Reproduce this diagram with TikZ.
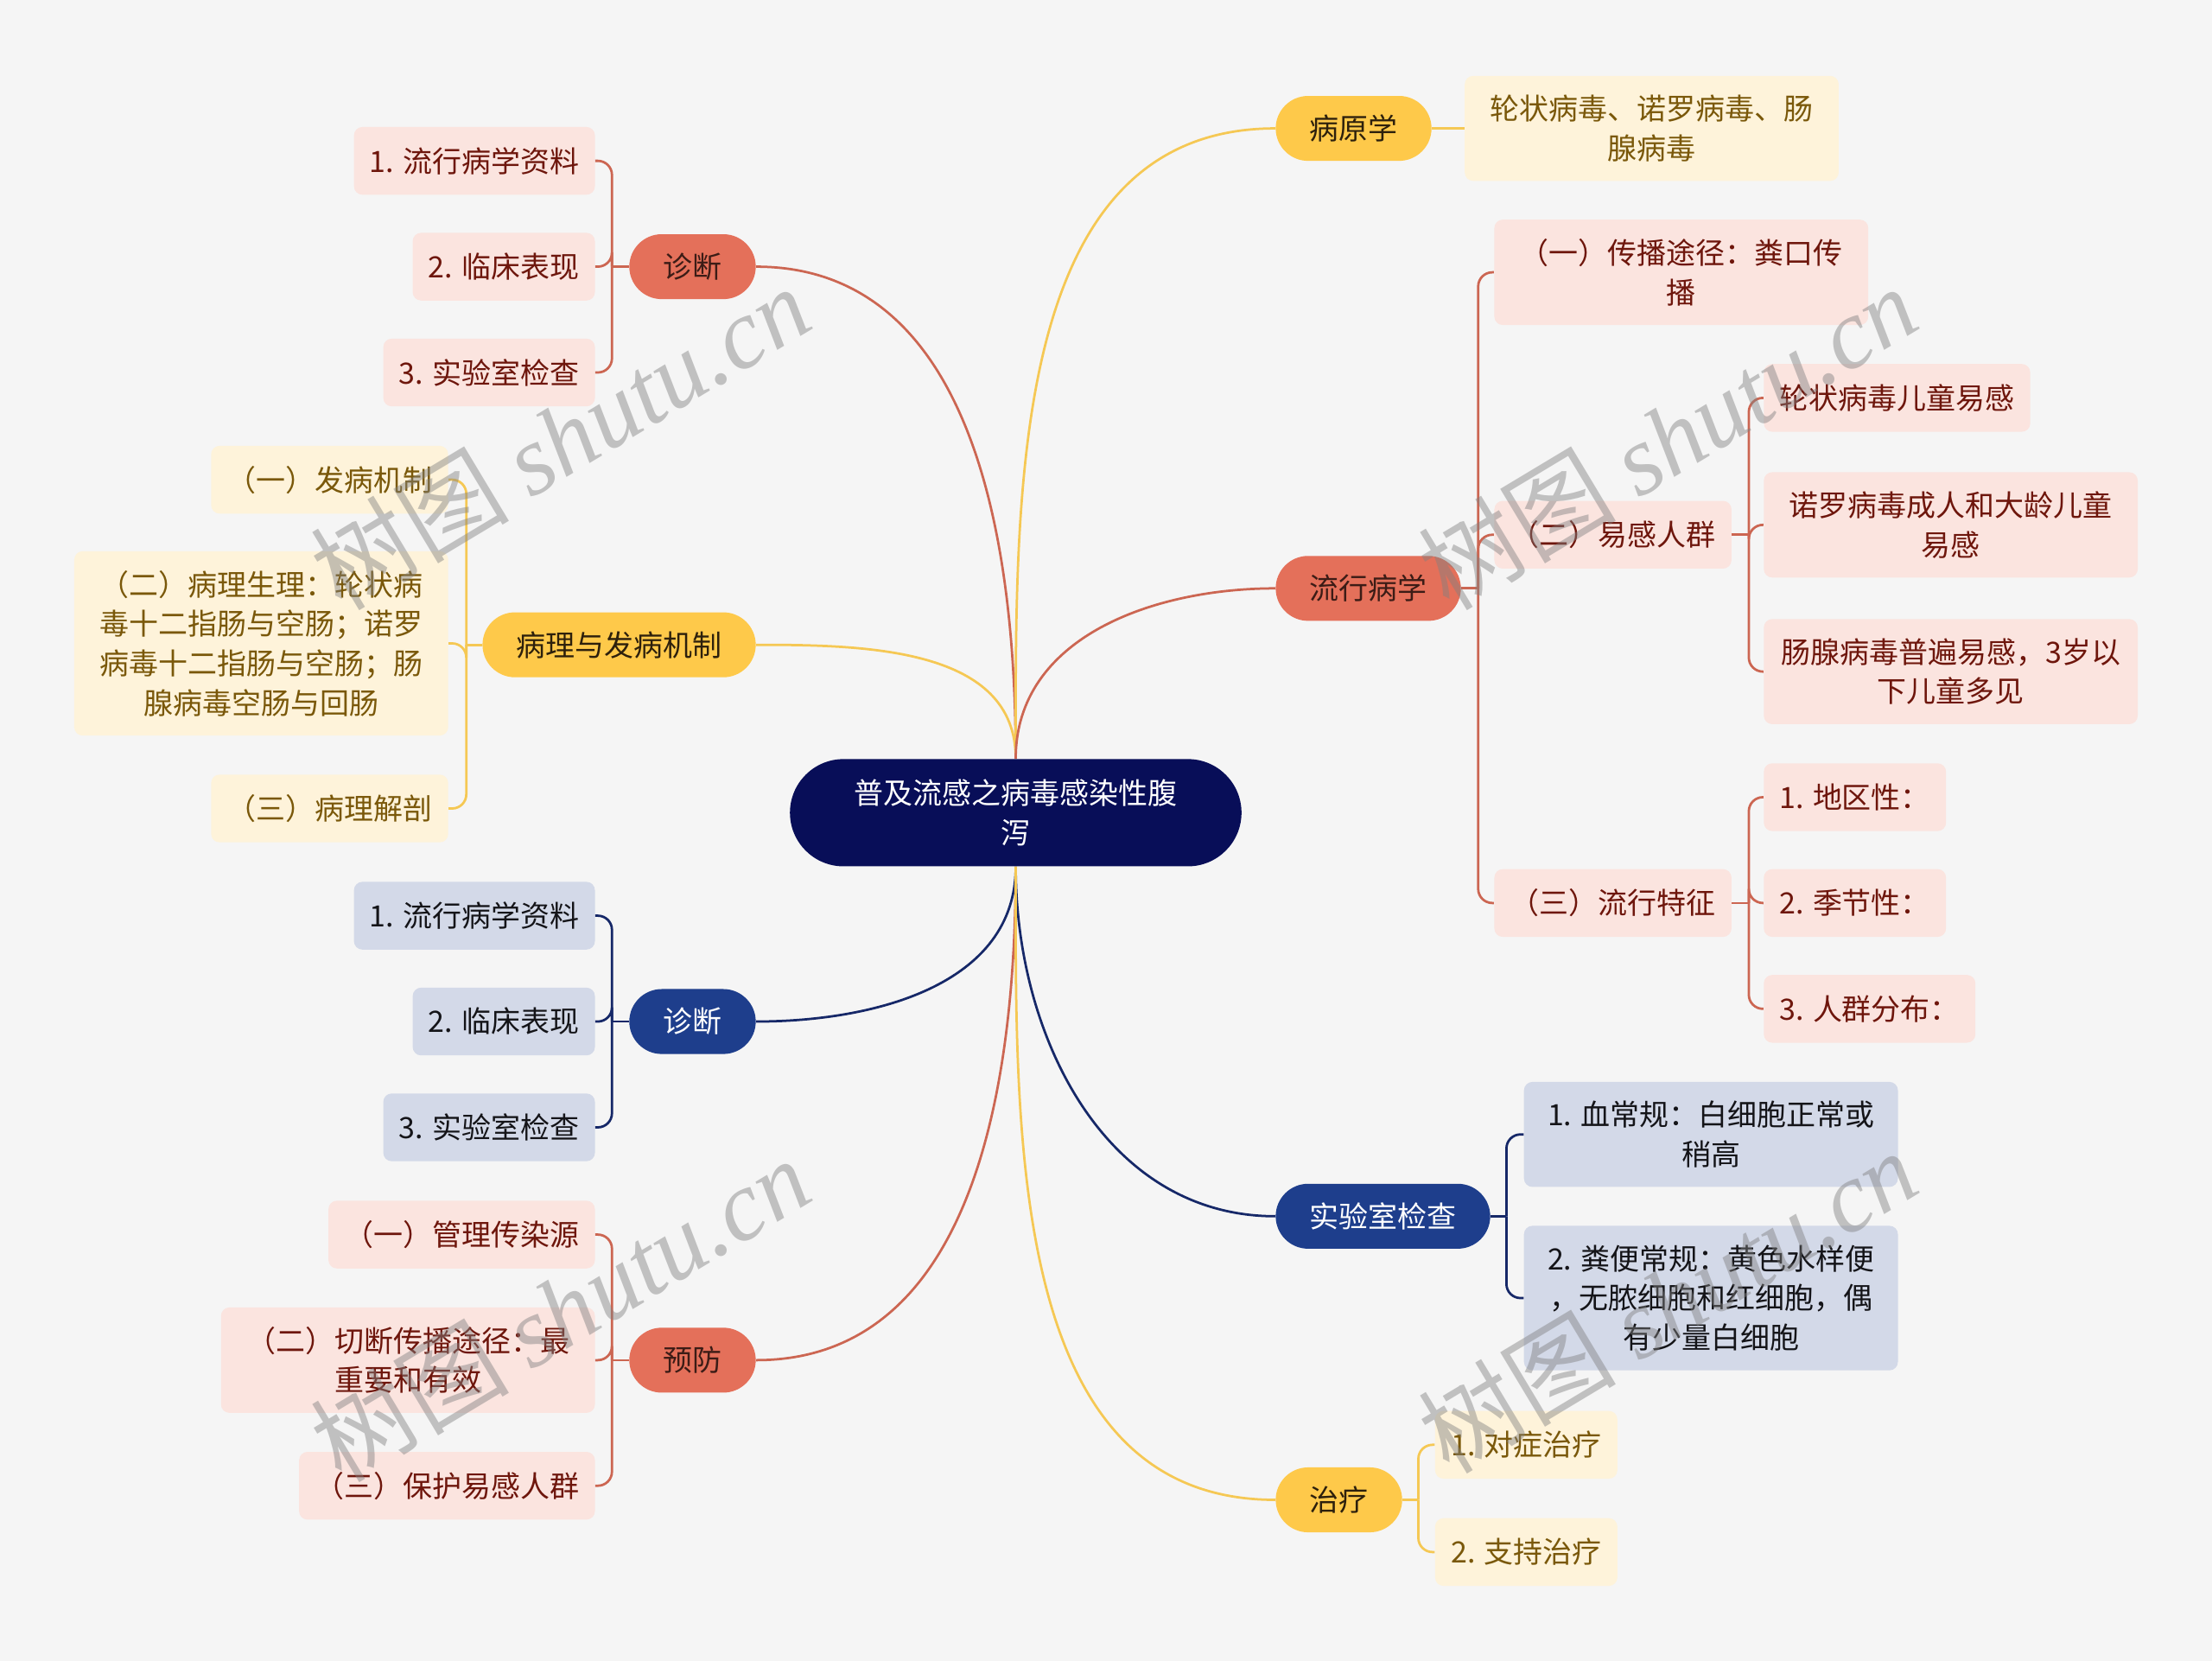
\documentclass[tikz,border=0pt]{standalone}
\usepackage{fontspec}
\newfontfamily\cjk{Noto Sans CJK SC}
\newfontfamily\wmfont{Liberation Serif}
\usetikzlibrary{positioning}

\definecolor{bgcol}{RGB}{245,245,245}
\definecolor{rootfill}{RGB}{8,14,88}
\definecolor{redfill}{RGB}{228,112,90}
\definecolor{redline}{RGB}{204,102,82}
\definecolor{redleaf}{RGB}{251,228,223}
\definecolor{redtext}{RGB}{110,22,12}
\definecolor{redhead}{RGB}{60,28,22}
\definecolor{yelfill}{RGB}{254,201,74}
\definecolor{yelline}{RGB}{245,200,84}
\definecolor{yelleaf}{RGB}{254,243,218}
\definecolor{yeltext}{RGB}{122,88,10}
\definecolor{yelhead}{RGB}{45,32,12}
\definecolor{bluefill}{RGB}{30,62,140}
\definecolor{blueline}{RGB}{22,40,104}
\definecolor{blueleaf}{RGB}{211,217,232}
\definecolor{bluetext}{RGB}{20,20,24}

\tikzset{
  base/.style={font=\cjk\fontsize{14.8}{19.9}\selectfont, align=center},
  root/.style={base, fill=rootfill, text=white, rounded corners=0.95cm,
    minimum width=8cm, minimum height=1.9cm, inner sep=0pt},
  branch/.style={base, rounded corners=0.575cm, minimum height=1.15cm,
    inner xsep=0.6cm, inner ysep=0pt},
  redbr/.style={branch, fill=redfill, text=redhead},
  yelbr/.style={branch, fill=yelfill, text=yelhead},
  bluebr/.style={branch, fill=bluefill, text=white},
  leaf/.style={base, rounded corners=0.15cm, minimum height=1.2cm,
    inner xsep=0.28cm, inner ysep=0.34cm},
  redlf/.style={leaf, fill=redleaf, text=redtext},
  yellf/.style={leaf, fill=yelleaf, text=yeltext},
  bluelf/.style={leaf, fill=blueleaf, text=bluetext},
  wide/.style={minimum width=6.625cm},
  link/.style={line width=1.2pt},
  brace/.style={line width=1.2pt, rounded corners=0.25cm},
  wmark/.style={font=\cjk\fontsize{50}{50}\selectfont, text=gray, opacity=0.45, rotate=31}
}

\begin{document}
\begin{tikzpicture}[x=0.025cm, y=0.025cm]
  % background and page size
  \fill[bgcol] (0,0) rectangle (1568,-1177);
  \useasboundingbox (0,0) rectangle (1568,-1177);

  % Root
  \node[root] (root) at (720,-576) {普及流感之病毒感染性腹\\泻};

  % Left branches
  \node[redbr, anchor=east] (zd1) at (536,-189) {诊断};
  \node[yelbr, anchor=east] (bl) at (536,-457) {病理与发病机制};
  \node[bluebr, anchor=east] (zd2) at (536,-724) {诊断};
  \node[redbr, anchor=east] (yf) at (536,-964) {预防};

  % Right branches
  \node[yelbr, anchor=west] (byx) at (904,-91) {病原学};
  \node[redbr, anchor=west] (lxb) at (904,-417) {流行病学};
  \node[bluebr, anchor=west] (sys) at (904,-862) {实验室检查};
  \node[yelbr, anchor=west] (zl) at (904,-1063) {治疗};

  % Root connectors
  \draw[link, redline] (root.north) to[out=90, in=0] (zd1.east);
  \draw[link, yelline] (root.north) to[out=90, in=0] (bl.east);
  \draw[link, blueline] (root.south) to[out=-90, in=0] (zd2.east);
  \draw[link, redline] (root.south) to[out=-90, in=0] (yf.east);
  \draw[link, yelline] (root.north) to[out=90, in=180] (byx.west);
  \draw[link, redline] (root.north) to[out=90, in=180] (lxb.west);
  \draw[link, blueline] (root.south) to[out=-90, in=180] (sys.west);
  \draw[link, yelline] (root.south) to[out=-90, in=180] (zl.west);

  % --- 诊断 (red) ---
  \node[redlf, anchor=east] (zd1a) at (422,-114) {1. 流行病学资料};
  \node[redlf, anchor=east] (zd1b) at (422,-189) {2. 临床表现};
  \node[redlf, anchor=east] (zd1c) at (422,-264) {3. 实验室检查};
  \coordinate (zd1k) at ([xshift=-0.3cm]zd1.west);
  \draw[link, redline] (zd1.west) -- (zd1k);
  \foreach \c in {zd1a,zd1b,zd1c}
    \draw[brace, redline] (zd1k) |- (\c.east);

  % --- 病理与发病机制 ---
  \node[yellf, anchor=east] (bla) at (318,-340) {（一）发病机制};
  \node[yellf, wide, anchor=east] (blb) at (318,-456)
    {（二）病理生理：轮状病\\毒十二指肠与空肠；诺罗\\病毒十二指肠与空肠；肠\\腺病毒空肠与回肠};
  \node[yellf, anchor=east] (blc) at (318,-573) {（三）病理解剖};
  \coordinate (blk) at ([xshift=-0.28cm]bl.west);
  \draw[link, yelline] (bl.west) -- (blk);
  \foreach \c in {bla,blb,blc}
    \draw[brace, yelline] (blk) |- (\c.east);

  % --- 诊断 (blue) ---
  \node[bluelf, anchor=east] (zd2a) at (422,-649) {1. 流行病学资料};
  \node[bluelf, anchor=east] (zd2b) at (422,-724) {2. 临床表现};
  \node[bluelf, anchor=east] (zd2c) at (422,-799) {3. 实验室检查};
  \coordinate (zd2k) at ([xshift=-0.3cm]zd2.west);
  \draw[link, blueline] (zd2.west) -- (zd2k);
  \foreach \c in {zd2a,zd2b,zd2c}
    \draw[brace, blueline] (zd2k) |- (\c.east);

  % --- 预防 ---
  \node[redlf, anchor=east] (yfa) at (422,-875) {（一）管理传染源};
  \node[redlf, wide, anchor=east] (yfb) at (422,-964) {（二）切断传播途径：最\\重要和有效};
  \node[redlf, anchor=east] (yfc) at (422,-1053) {（三）保护易感人群};
  \coordinate (yfk) at ([xshift=-0.3cm]yf.west);
  \draw[link, redline] (yf.west) -- (yfk);
  \foreach \c in {yfa,yfb,yfc}
    \draw[brace, redline] (yfk) |- (\c.east);

  % --- 病原学 ---
  \node[yellf, wide, anchor=west] (byxa) at (1038,-91) {轮状病毒、诺罗病毒、肠\\腺病毒};
  \draw[link, yelline] (byx.east) -- (byxa.west);

  % --- 流行病学 ---
  \node[redlf, wide, anchor=west] (lxba) at (1059,-193) {（一）传播途径：粪口传\\播};
  \node[redlf, anchor=west] (lxbb) at (1059,-379) {（二）易感人群};
  \node[redlf, anchor=west] (lxbc) at (1059,-640) {（三）流行特征};
  \coordinate (lxbk) at ([xshift=0.3cm]lxb.east);
  \draw[link, redline] (lxb.east) -- (lxbk);
  \foreach \c in {lxba,lxbb,lxbc}
    \draw[brace, redline] (lxbk) |- (\c.west);

  % 易感人群
  \node[redlf, anchor=west] (yga) at (1250,-282) {轮状病毒儿童易感};
  \node[redlf, wide, anchor=west] (ygb) at (1250,-372) {诺罗病毒成人和大龄儿童\\易感};
  \node[redlf, wide, anchor=west] (ygc) at (1250,-476) {肠腺病毒普遍易感，3岁以\\下儿童多见};
  \coordinate (ygk) at ([xshift=0.3cm]lxbb.east);
  \draw[link, redline] (lxbb.east) -- (ygk);
  \foreach \c in {yga,ygb,ygc}
    \draw[brace, redline] (ygk) |- (\c.west);

  % 流行特征
  \node[redlf, anchor=west] (tza) at (1250,-565) {1. 地区性：};
  \node[redlf, anchor=west] (tzb) at (1250,-640) {2. 季节性：};
  \node[redlf, anchor=west] (tzc) at (1250,-715) {3. 人群分布：};
  \coordinate (tzk) at ([xshift=0.3cm]lxbc.east);
  \draw[link, redline] (lxbc.east) -- (tzk);
  \foreach \c in {tza,tzb,tzc}
    \draw[brace, redline] (tzk) |- (\c.west);

  % --- 实验室检查 ---
  \node[bluelf, wide, anchor=west] (sysa) at (1080,-804) {1. 血常规：白细胞正常或\\稍高};
  \node[bluelf, wide, anchor=west] (sysb) at (1080,-920)
    {2. 粪便常规：黄色水样便\\，无脓细胞和红细胞，偶\\有少量白细胞};
  \coordinate (sysk) at ([xshift=0.28cm]sys.east);
  \draw[link, blueline] (sys.east) -- (sysk);
  \foreach \c in {sysa,sysb}
    \draw[brace, blueline] (sysk) |- (\c.west);

  % --- 治疗 ---
  \node[yellf, anchor=west] (zla) at (1017,-1024) {1. 对症治疗};
  \node[yellf, anchor=west] (zlb) at (1017,-1100) {2. 支持治疗};
  \coordinate (zlk) at ([xshift=0.28cm]zl.east);
  \draw[link, yelline] (zl.east) -- (zlk);
  \foreach \c in {zla,zlb}
    \draw[brace, yelline] (zlk) |- (\c.west);

  % watermarks
  \node[wmark] (wm1) at (397,-310) {树图 {\wmfont\itshape shutu.cn}};
  \node[wmark] (wm2) at (1182,-310) {树图 {\wmfont\itshape shutu.cn}};
  \node[wmark] (wm3) at (397,-928) {树图 {\wmfont\itshape shutu.cn}};
  \node[wmark] (wm4) at (1182,-922) {树图 {\wmfont\itshape shutu.cn}};
\end{tikzpicture}
\end{document}
